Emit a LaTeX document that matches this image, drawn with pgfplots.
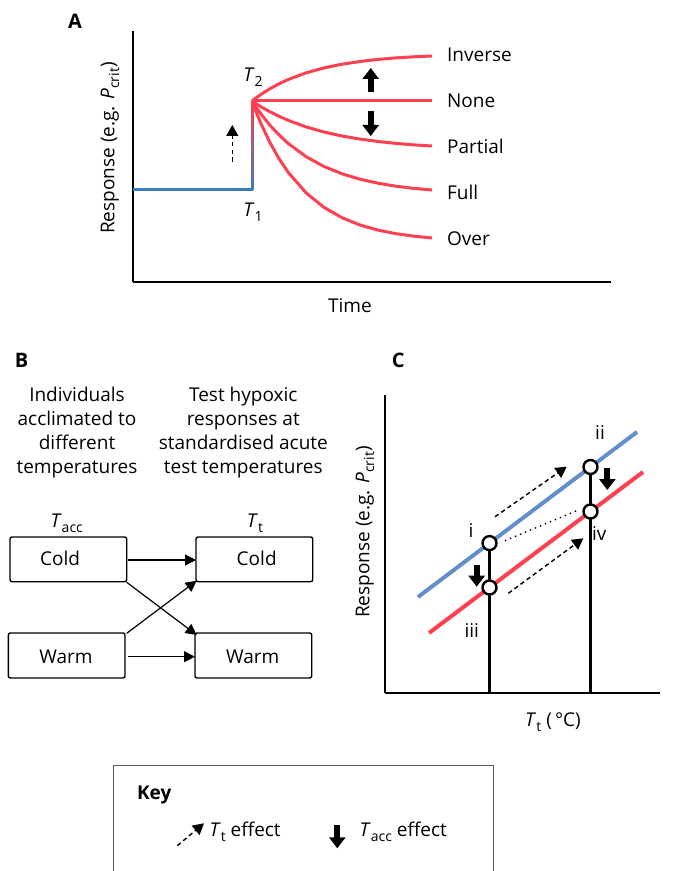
\documentclass[border=0pt]{standalone}
\usepackage{fontspec}
\setmainfont{Open Sans}
\usepackage{pgfplots}
\usepackage{pgfplotstable}
\pgfplotsset{compat=1.18}
\usetikzlibrary{arrows.meta}
\definecolor{pred}{RGB}{255,64,80}
\definecolor{pblueA}{RGB}{55,125,192}
\definecolor{pblueC}{RGB}{98,143,200}
\newcommand{\sub}[1]{\raisebox{-0.45ex}{\fontsize{7}{7}\selectfont #1}}
\newcommand{\T}{\textit{T}}

% Panel A: response curves after the step from T1 to T2 (x = time, y = response)
\pgfplotstableread{
x     inv    none  par    full   over
119   181    181   181    181    181
123.5 184.4  181   178.0  174.2  169.2
128   187.6  181   175.2  168.0  158.3
137   193.3  181   170.2  156.7  139.3
146   198.2  181   165.7  147.1  123.3
155   202.4  181   161.7  138.7  109.9
173   209.1  181   155.1  125.4  89.2
191   214.1  181   150.0  115.5  74.6
209   217.8  181   146.0  108.2  64.3
227   220.5  181   142.9  102.8  57.0
245   222.6  181   140.5  98.8   51.9
263   224.1  181   138.6  95.8   48.3
281   225.2  181   137.1  93.6   45.8
299   226    181   136    92     44
}\curvesA

\begin{document}
\begin{tikzpicture}[x=0.5pt,y=-0.5pt,font=\fontsize{9.5}{12}\selectfont,
  every node/.style={inner sep=0pt},
  thick arrow/.style={line width=3pt,-{Triangle[width=8pt,length=5.5pt]}},
  thin dash arrow/.style={line width=0.7pt,dash pattern=on 2.2pt off 1.6pt,-{Triangle[width=6pt,length=5.5pt]}}]
\useasboundingbox (0,0) rectangle (677,871);
\coordinate (A0) at (133,282);
\coordinate (C0) at (385,693);

% ---------------- Panel A ----------------
\begin{axis}[at={(A0)}, anchor=south west, scale only axis,
  width=239pt, height=125.5pt, xmin=0, xmax=478, ymin=0, ymax=251,
  axis lines=left, axis line style={-, line width=1pt},
  xtick=\empty, ytick=\empty, clip=false]
\addplot[pblueA, line width=1.5pt] coordinates {(0,92) (119.7,92)};
\addplot[mesh, line width=1.5pt, point meta=explicit, point meta min=0, point meta max=1,
  colormap={br}{color=(pblueA) color=(pred)}, shader=flat]
  coordinates {(119,92) [0] (119,102) [0.11] (119,112) [0.22] (119,122) [0.34] (119,132) [0.45]
  (119,142) [0.56] (119,152) [0.67] (119,162) [0.79] (119,172) [0.9] (119,181) [1]};
\addplot[pred, line width=1.5pt, line join=round] table[x=x,y=inv] {\curvesA};
\addplot[pred, line width=1.5pt, line join=round] table[x=x,y=none] {\curvesA};
\addplot[pred, line width=1.5pt, line join=round] table[x=x,y=par] {\curvesA};
\addplot[pred, line width=1.5pt, line join=round] table[x=x,y=full] {\curvesA};
\addplot[pred, line width=1.5pt, line join=round] table[x=x,y=over] {\curvesA};
\draw[thin dash arrow] (axis cs:99.3,120.3) -- (axis cs:99.3,157);
\draw[thick arrow] (axis cs:237.7,190.3) -- (axis cs:237.7,214);
\draw[thick arrow] (axis cs:237.7,171) -- (axis cs:237.7,146);
\end{axis}

\node[font=\fontsize{10}{12}\selectfont\bfseries] at (75,21) {A};
\node[rotate=90] at (110,148) {Response (e.g. \textit{P}\sub{crit})};
\node at (350,306) {Time};
\node at (253,77) {\T\sub{2}};
\node at (253,212) {\T\sub{1}};
\node[anchor=west] at (446.7,55) {Inverse};
\node[anchor=west] at (446.7,101) {None};
\node[anchor=west] at (446.7,146.7) {Partial};
\node[anchor=west] at (446.7,192.7) {Full};
\node[anchor=west] at (446.7,238.7) {Over};

% ---------------- Panel B ----------------
\node[font=\fontsize{10}{12}\selectfont\bfseries] at (21.7,360) {B};
\node[align=center] at (77,433) {Individuals\\acclimated to\\different\\temperatures};
\node[align=center] at (243.3,433) {Test hypoxic\\responses at\\standardised acute\\test temperatures};
\node at (66.7,523) {\T\sub{acc}};
\node at (255,523) {\T\sub{t}};
\draw[line width=0.7pt, rounded corners=1pt] (10,537) rectangle (126.7,581.7);
\draw[line width=0.7pt, rounded corners=1pt] (8.3,633) rectangle (125,678);
\draw[line width=0.7pt, rounded corners=1pt] (196,537) rectangle (312.7,581.7);
\draw[line width=0.7pt, rounded corners=1pt] (195,633) rectangle (311.7,678);
\node at (60,558.3) {Cold};
\node at (66,656.7) {Warm};
\node at (256.7,558.3) {Cold};
\node at (252.7,656.7) {Warm};
\begin{scope}[line width=0.6pt, -{Triangle[width=5.5pt,length=5.5pt]}]
\draw (128.3,560) -- (196,560);
\draw (128,656.7) -- (195,656.7);
\draw (126.7,582.3) -- (196.7,635);
\draw (126.7,633.3) -- (196.7,580.7);
\end{scope}

% ---------------- Panel C ----------------
\begin{axis}[at={(C0)}, anchor=south west, scale only axis,
  width=137.5pt, height=149pt, xmin=0, xmax=275, ymin=0, ymax=298,
  axis lines=left, axis line style={-, line width=1pt},
  xtick=\empty, ytick=\empty, clip=false]
\addplot[black, line width=1.4pt] coordinates {(104.5,0) (104.5,150)};
\addplot[black, line width=1.4pt] coordinates {(205.5,0) (205.5,226)};
\addplot[pblueC, line width=2pt] coordinates {(33,96) (252,261)};
\addplot[pred, line width=2pt] coordinates {(44,60) (258,221)};
\draw[line width=0.7pt, dotted] (axis cs:120,152.3) -- (axis cs:191.7,182.3);
\draw[thin dash arrow] (axis cs:110,176.3) -- (axis cs:181.7,226.3);
\draw[thin dash arrow] (axis cs:123.3,99.7) -- (axis cs:198.3,154.7);
\draw[thick arrow] (axis cs:91.7,128) -- (axis cs:91.7,106.3);
\draw[thick arrow] (axis cs:222.3,224.7) -- (axis cs:222.3,203);
\addplot[only marks, mark=*, mark size=3.5pt, mark options={fill=white, draw=black, line width=1.2pt}]
  coordinates {(104.5,149.9) (205.5,226.0) (104.5,105.5) (205.5,181.5)};
\end{axis}
\node[font=\fontsize{10}{12}\selectfont\bfseries] at (398.3,360) {C};
\node[rotate=90] at (365,532) {Response (e.g. \textit{P}\sub{crit})};
\node at (553,722) {\T\sub{t} (\,°C)};
\node at (471,531) {i};
\node at (600,432.7) {ii};
\node at (471.7,630.7) {iii};
\node at (599.3,533.3) {iv};

% ---------------- Key ----------------
\draw[black!65, line width=0.6pt] (113.3,880) -- (113.3,765.7) -- (493.3,765.7) -- (493.3,880);
\node[anchor=west, font=\fontsize{9.5}{12}\selectfont\bfseries] at (136.7,795) {Key};
\draw[thin dash arrow] (177.3,845.7) -- (204,823.3);
\node[anchor=west] at (209.3,832) {\T\sub{t} effect};
\draw[thick arrow] (337.3,825) -- (337.3,848.3);
\node[anchor=west] at (359.3,832) {\T\sub{acc} effect};
\end{tikzpicture}
\end{document}
